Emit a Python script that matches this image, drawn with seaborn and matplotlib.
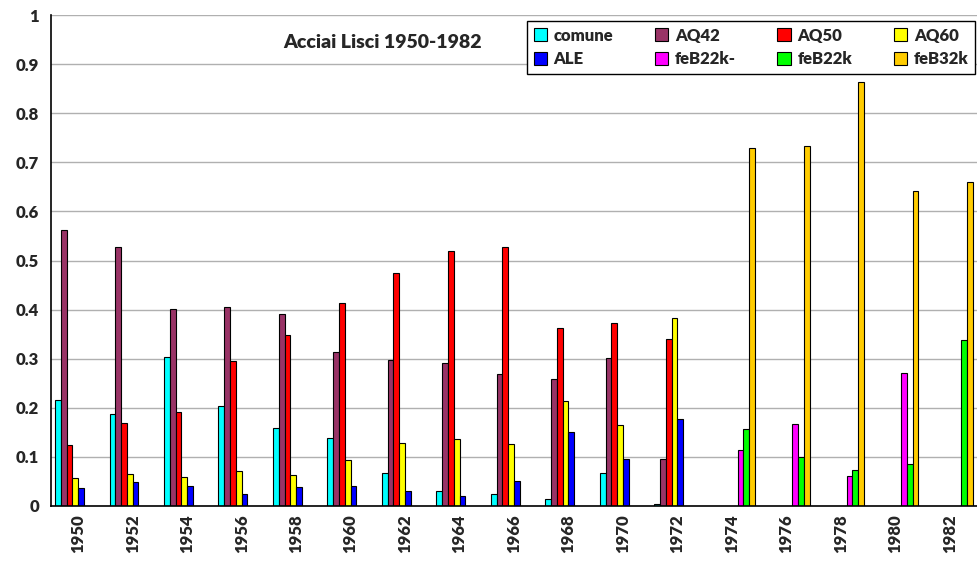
import numpy as np
import pandas as pd
import matplotlib
matplotlib.use("Agg")
import matplotlib.pyplot as plt
import seaborn as sns

nan = np.nan

years = ['1950', '1952', '1954', '1956', '1958', '1960', '1962', '1964', '1966',
         '1968', '1970', '1972', '1974', '1976', '1978', '1980', '1982']
series = ['comune', 'AQ42', 'AQ50', 'AQ60', 'ALE', 'feB22k-', 'feB22k', 'feB32k']

comune = [0.215, 0.188, 0.304, 0.204, 0.158, 0.138, 0.067, 0.031, 0.024,
          0.014, 0.068, 0.005, nan, nan, nan, nan, nan]
aq42 = [0.563, 0.527, 0.402, 0.405, 0.392, 0.314, 0.297, 0.291, 0.269,
        0.259, 0.301, 0.095, nan, nan, nan, nan, nan]
aq50 = [0.125, 0.169, 0.191, 0.295, 0.348, 0.414, 0.475, 0.520, 0.527,
        0.362, 0.372, 0.340, nan, nan, nan, nan, nan]
aq60 = [0.058, 0.065, 0.060, 0.071, 0.063, 0.093, 0.129, 0.137, 0.127,
        0.214, 0.164, 0.382, nan, nan, nan, nan, nan]
ale = [0.037, 0.048, 0.041, 0.024, 0.039, 0.041, 0.031, 0.020, 0.051,
       0.150, 0.095, 0.178, nan, nan, nan, nan, nan]
feb22k_ = [nan] * 12 + [0.114, 0.167, 0.062, 0.271, nan]
feb22k = [nan] * 12 + [0.156, 0.099, 0.073, 0.086, 0.339]
feb32k = [nan] * 12 + [0.730, 0.734, 0.864, 0.642, 0.660]

colors = ['#00FFFF', '#993366', '#FF0000', '#FFFF00', '#0000FF',
          '#FF00FF', '#00FF00', '#FFCC00']

wide = pd.DataFrame({'anno': years, 'comune': comune, 'AQ42': aq42, 'AQ50': aq50,
                     'AQ60': aq60, 'ALE': ale, 'feB22k-': feb22k_,
                     'feB22k': feb22k, 'feB32k': feb32k})
df = wide.melt(id_vars='anno', var_name='acciaio', value_name='valore').dropna()

sns.set_style('white')
plt.rcParams['font.family'] = ['Lato', 'DejaVu Sans']
plt.rcParams['font.weight'] = 'bold'

fig = plt.figure(figsize=(9.77, 5.67), dpi=100)
ax = fig.add_axes([51 / 977, 61 / 567, 926 / 977, 491 / 567])

sns.barplot(data=df, x='anno', y='valore', hue='acciaio', order=years,
            hue_order=series, palette=dict(zip(series, colors)),
            width=0.85, errorbar=None, edgecolor='black', linewidth=0.8,
            saturation=1, ax=ax)

ax.set_xlim(-0.5, len(years) - 0.5)
ax.set_ylim(0, 1)
ax.set_yticks(np.arange(0, 1.01, 0.1))
ax.set_yticklabels(['0'] + ['%.1f' % v for v in np.arange(0.1, 0.95, 0.1)] + ['1'])
ax.yaxis.grid(True, color='#b0b0b0', linewidth=1)
ax.set_axisbelow(True)
ax.set_xlabel('')
ax.set_ylabel('')

# tick marks between the groups, labels in the middle
ax.set_xticks(np.arange(-0.5, len(years), 1), minor=True)
ax.tick_params(axis='x', which='minor', length=6, width=1, color='#606060', direction='out')
ax.tick_params(axis='x', which='major', length=0, pad=6, labelrotation=90, labelsize=12)
ax.tick_params(axis='y', length=5, width=1, color='black', direction='out', labelsize=12)
for lab in ax.get_xticklabels() + ax.get_yticklabels():
    lab.set_fontweight('heavy')

for s in ['top', 'right']:
    ax.spines[s].set_visible(False)
ax.spines['left'].set_color('black')
ax.spines['bottom'].set_color('black')
ax.spines['left'].set_linewidth(1.2)
ax.spines['bottom'].set_linewidth(1.2)

ax.text(0.358, 0.945, 'Acciai Lisci 1950-1982', transform=ax.transAxes,
        ha='center', va='center', fontsize=14, fontweight='heavy')

# legend reads row by row: reorder for matplotlib's column filling
handles, labels = ax.get_legend_handles_labels()
order = [0, 4, 1, 5, 2, 6, 3, 7]
leg = ax.legend([handles[i] for i in order], [labels[i] for i in order],
                ncol=4, loc='upper left', bbox_to_anchor=(0.514, 0.988, 0.484, 0.0),
                mode='expand', fancybox=False, framealpha=1, edgecolor='black',
                borderaxespad=0, handlelength=0.8, handleheight=0.8,
                handletextpad=0.4, columnspacing=1.0, borderpad=0.4,
                labelspacing=0.45, prop={'size': 12, 'weight': 'heavy'})
leg.get_frame().set_linewidth(1)

fig.savefig('out.png', dpi=100)
